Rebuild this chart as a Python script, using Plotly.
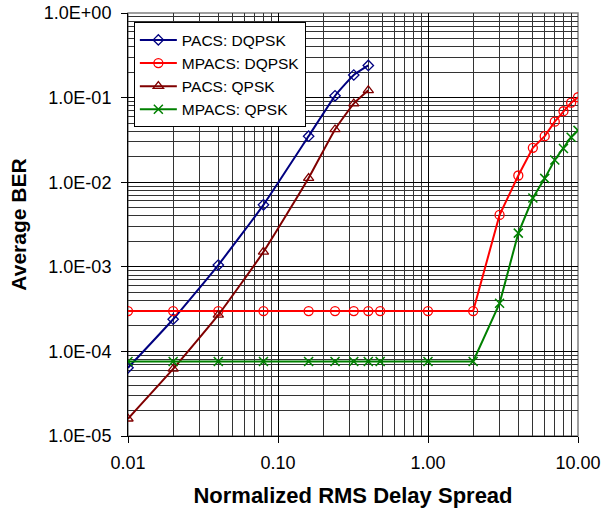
import plotly.graph_objects as go

# ---- data ----
x_pacs = [0.01, 0.02, 0.04, 0.08, 0.16, 0.24, 0.32, 0.40]
y_pacs_dqpsk = [6.4e-5, 2.4e-4, 1.05e-3, 5.4e-3, 3.5e-2, 1.05e-1, 1.85e-1, 2.4e-1]
y_pacs_qpsk = [1.6e-5, 6.2e-5, 2.7e-4, 1.5e-3, 1.12e-2, 4.2e-2, 8.5e-2, 1.22e-1]

x_mpacs = [0.01, 0.02, 0.04, 0.08, 0.16, 0.24, 0.32, 0.40, 0.48, 1.0, 2.0,
           3.0, 4.0, 5.0, 6.0, 7.0, 8.0, 9.0, 10.0]
y_mpacs_dqpsk = [3.0e-4] * 11 + [4.1e-3, 1.2e-2, 2.55e-2, 3.5e-2, 5.2e-2, 6.9e-2, 8.7e-2, 1.01e-1]
y_mpacs_qpsk = [7.6e-5] * 11 + [3.7e-4, 2.5e-3, 6.5e-3, 1.11e-2, 1.83e-2, 2.5e-2, 3.4e-2, 4.1e-2]

x_tickvals = [0.01, 0.1, 1, 10]
x_ticktext = ["0.01", "0.10", "1.00", "10.00"]
y_tickvals = [1e-5, 1e-4, 1e-3, 1e-2, 1e-1, 1]
y_ticktext = ["1.0E-05", "1.0E-04", "1.0E-03", "1.0E-02", "1.0E-01", "1.0E+00"]

FONT = "Liberation Sans, Arial, sans-serif"

fig = go.Figure()
fig.add_trace(go.Scatter(
    x=x_pacs, y=y_pacs_dqpsk, name="PACS: DQPSK", mode="lines+markers",
    line=dict(color="#000080", width=2, shape="spline", smoothing=0.4),
    marker=dict(symbol="diamond-open", size=8, color="#000080", line=dict(width=1.3))))
fig.add_trace(go.Scatter(
    x=x_mpacs, y=y_mpacs_dqpsk, name="MPACS: DQPSK", mode="lines+markers",
    line=dict(color="#FF0000", width=2),
    marker=dict(symbol="circle-open", size=9, color="#FF0000", line=dict(width=1.3))))
fig.add_trace(go.Scatter(
    x=x_pacs, y=y_pacs_qpsk, name="PACS: QPSK", mode="lines+markers",
    line=dict(color="#800000", width=2, shape="spline", smoothing=0.4),
    marker=dict(symbol="triangle-up-open", size=9, color="#800000", line=dict(width=1.3))))
fig.add_trace(go.Scatter(
    x=x_mpacs, y=y_mpacs_qpsk, name="MPACS: QPSK", mode="lines+markers",
    line=dict(color="#008000", width=2),
    marker=dict(symbol="x-thin-open", size=9, color="#008000", line=dict(width=1.5, color="#008000"))))

fig.update_layout(
    width=602, height=510,
    margin=dict(l=127.5, r=24, t=12.5, b=73.5),
    paper_bgcolor="white", plot_bgcolor="white",
    font=dict(family=FONT, size=18, color="black"),
    showlegend=True,
    legend=dict(x=0.013, y=0.978, xanchor="left", yanchor="top",
                bgcolor="white", bordercolor="black", borderwidth=1,
                font=dict(family=FONT, size=15.5, color="black"),
                tracegroupgap=0, itemwidth=37),
    shapes=[dict(type="rect", xref="paper", yref="paper", x0=0, y0=0, x1=1, y1=1,
                 line=dict(color="#808080", width=1.5), layer="below")],
)

fig.update_xaxes(
    type="log", range=[-2, 1], automargin=False,
    tickvals=x_tickvals, ticktext=x_ticktext,
    ticks="outside", ticklen=6, tickcolor="black", tickwidth=1,
    showline=True, linecolor="black", linewidth=1,
    showgrid=True, gridcolor="black", gridwidth=1,
    minor=dict(dtick="D1", showgrid=True, gridcolor="#333333", gridwidth=1, ticks=""),
    zeroline=False,
    ticklabelstandoff=4,
    title=dict(text="<b>Normalized RMS Delay Spread</b>", font=dict(size=22, family=FONT), standoff=16),
)
fig.update_yaxes(
    type="log", range=[-5, 0], automargin=False,
    tickvals=y_tickvals, ticktext=y_ticktext,
    ticks="outside", ticklen=6, tickcolor="black", tickwidth=1,
    showline=True, linecolor="black", linewidth=1,
    showgrid=True, gridcolor="black", gridwidth=1,
    minor=dict(dtick="D1", showgrid=True, gridcolor="#333333", gridwidth=1, ticks=""),
    zeroline=False,
    ticklabelstandoff=6,
    title=dict(text="<b>Average BER</b>", font=dict(size=21, family=FONT), standoff=11),
)

fig.write_html("out.html")
